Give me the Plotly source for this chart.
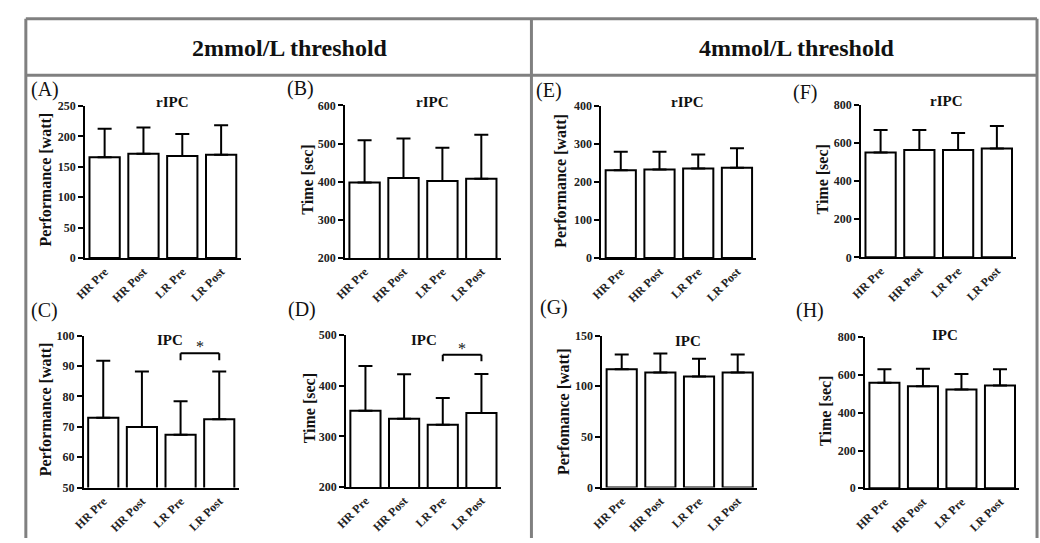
import plotly.graph_objects as go

W, H = 1040, 543

categories = ["HR Pre", "HR Post", "LR Pre", "LR Post"]

# Panel data (mean, SD)
A_mean = [166, 171.5, 168, 170]
A_sd = [46.6, 43.3, 36.2, 48.6]
B_mean = [398, 410, 402, 408]
B_sd = [111, 103, 87, 115]
C_mean = [73.0, 69.9, 67.4, 72.5]
C_sd = [18.7, 18.3, 11.0, 15.7]
D_mean = [350.6, 334.6, 323, 346.2]
D_sd = [88, 88, 52.6, 77]
E_mean = [230.3, 232.8, 235.4, 237.1]
E_sd = [48.6, 46.1, 36.6, 51.2]
F_mean = [550, 563, 563, 570]
F_sd = [117, 104, 89, 119]
G_mean = [116.7, 113.5, 109.6, 113.5]
G_sd = [14.7, 18.9, 17.6, 17.9]
H_mean = [559, 540, 523, 544]
H_sd = [71, 93, 83, 86]

y_ranges = {"A": [0, 250], "B": [200, 600], "C": [50, 100], "D": [200, 500],
            "E": [0, 400], "F": [0, 800], "G": [0, 150], "H": [0, 800]}
y_dticks = {"A": 50, "B": 100, "C": 10, "D": 100, "E": 100, "F": 200, "G": 50, "H": 200}
y_titles = {"A": "Performance [watt]", "B": "Time [sec]", "C": "Performance [watt]",
            "D": "Time [sec]", "E": "Performance [watt]", "F": "Time [sec]",
            "G": "Perfomance [watt]", "H": "Time [sec]"}
panel_titles = {"A": "rIPC", "B": "rIPC", "C": "IPC", "D": "IPC",
                "E": "rIPC", "F": "rIPC", "G": "IPC", "H": "IPC"}
means = {"A": A_mean, "B": B_mean, "C": C_mean, "D": D_mean,
         "E": E_mean, "F": F_mean, "G": G_mean, "H": H_mean}
sds = {"A": A_sd, "B": B_sd, "C": C_sd, "D": D_sd,
       "E": E_sd, "F": F_sd, "G": G_sd, "H": H_sd}

# significance brackets: (panel, from category, to category, bracket level, leg bottom)
sig_C = ("C", "LR Pre", "LR Post", 94.2, 91.9)
sig_D = ("D", "LR Pre", "LR Post", 461, 448)

# ---- layout geometry (pixels) ----
dom_px = {
    "A": (75, 232, 101.7, 257.7),
    "B": (337.7, 495, 101, 257.7),
    "E": (596.7, 753.3, 101.3, 257.7),
    "F": (859.3, 1016, 100.3, 257),
    "C": (73.7, 230, 337.3, 493.3),
    "D": (338.7, 495, 336.7, 492.7),
    "G": (597.7, 754, 337.3, 493.3),
    "H": (863.3, 1019, 339, 494),
}
ytitle_px = {"A": (35, 177.5), "B": (300, 177.5), "C": (35, 413.3), "D": (301.7, 412.5),
             "E": (556, 178.3), "F": (820, 176.7), "G": (557.7, 415), "H": (823.3, 415)}
label_px = {"A": (34.8, 85), "B": (292.5, 84), "C": (34, 311.7), "D": (293.8, 310),
            "E": (543.3, 86), "F": (802, 88), "G": (548.5, 308.3), "H": (808, 311.7)}
ptitle_px = {"A": (163, 97.3), "B": (425.7, 97.3), "C": (161, 342.3), "D": (417, 342.3),
             "E": (684, 97.3), "F": (946, 96.7), "G": (684.7, 342.7), "H": (943.8, 336.7)}


def px(x):
    return x / W


def py(y):
    return 1 - y / H


SERIF = "'Liberation Serif', 'DejaVu Serif', 'Times New Roman', Times, serif"
order = ["A", "B", "C", "D", "E", "F", "G", "H"]

fig = go.Figure()
layout = dict(
    width=W, height=H, margin=dict(l=0, r=0, t=0, b=0),
    paper_bgcolor="white", plot_bgcolor="white", showlegend=False,
    font=dict(family=SERIF),
)
annotations = []
shapes = []

for i, p in enumerate(order):
    n = "" if i == 0 else str(i + 1)
    xa, ya = "x" + n, "y" + n
    x0, x1, y0, y1 = dom_px[p]
    fig.add_trace(go.Bar(
        x=categories, y=means[p], xaxis=xa, yaxis=ya,
        width=0.78,
        marker=dict(color="white", line=dict(color="black", width=2)),
        error_y=dict(type="data", array=sds[p], arrayminus=[0] * 4, symmetric=False,
                     color="black", thickness=2, width=7),
    ))
    layout["xaxis" + n] = dict(
        domain=[px(x0), px(x1)], anchor=ya, type="category",
        categoryorder="array", categoryarray=categories, range=[-0.5, 3.5],
        showline=True, linecolor="black", linewidth=2, ticks="",
        showgrid=False, zeroline=False, tickangle=-45,
        tickfont=dict(family=SERIF, size=12, color="#222", weight="bold"),
    )
    layout["yaxis" + n] = dict(
        domain=[py(y1), py(y0)], anchor=xa, range=y_ranges[p], dtick=y_dticks[p],
        showline=True, linecolor="black", linewidth=2, ticks="outside",
        ticklen=5, tickwidth=2, tickcolor="black", showgrid=False, zeroline=False,
        tickfont=dict(family=SERIF, size=12, color="#222", weight="bold"),
    )
    tx, ty = ytitle_px[p]
    annotations.append(dict(x=px(tx), y=py(ty), xref="paper", yref="paper",
                            text="<b>" + y_titles[p] + "</b>", textangle=-90,
                            showarrow=False, xanchor="center", yanchor="middle",
                            font=dict(family=SERIF, size=16, color="#111")))
    lx, ly = label_px[p]
    annotations.append(dict(x=px(lx), y=py(ly), xref="paper", yref="paper",
                            text="(" + p + ")", showarrow=False,
                            xanchor="center", yanchor="middle",
                            font=dict(family=SERIF, size=20, color="#111")))
    tx2, ty2 = ptitle_px[p]
    annotations.append(dict(x=px(tx2), y=py(ty2), xref="paper", yref="paper",
                            text="<b>" + panel_titles[p] + "</b>", showarrow=False,
                            xanchor="center", yanchor="middle",
                            font=dict(family=SERIF, size=15, color="#111")))

# significance brackets
for sig in (sig_C, sig_D):
    p, c_from, c_to, top, leg = sig
    i = order.index(p)
    n = "" if i == 0 else str(i + 1)
    xr, yr = "x" + n, "y" + n
    a, b = categories.index(c_from), categories.index(c_to)
    line = dict(color="black", width=2)
    shapes.append(dict(type="line", xref=xr, yref=yr, x0=a, x1=b, y0=top, y1=top, line=line))
    shapes.append(dict(type="line", xref=xr, yref=yr, x0=a, x1=a, y0=leg, y1=top, line=line))
    shapes.append(dict(type="line", xref=xr, yref=yr, x0=b, x1=b, y0=leg, y1=top, line=line))
    annotations.append(dict(x=(a + b) / 2, y=top, xref=xr, yref=yr, text="*",
                            showarrow=False, xanchor="center", yanchor="bottom",
                            yshift=-4, font=dict(family=SERIF, size=16, color="#111")))

# header texts
annotations.append(dict(x=px(282), y=py(41.7), xref="paper", yref="paper",
                        text="<b>2mmol/L threshold</b>", showarrow=False,
                        xanchor="center", yanchor="middle",
                        font=dict(family=SERIF, size=24, color="#111")))
annotations.append(dict(x=px(794), y=py(41.7), xref="paper", yref="paper",
                        text="<b>4mmol/L threshold</b>", showarrow=False,
                        xanchor="center", yanchor="middle",
                        font=dict(family=SERIF, size=24, color="#111")))

# frame
frame = dict(color="#808080", width=3)
for (xa0, ya0, xa1, ya1) in [(15, 12, 1037, 12), (15, 70, 1037, 70),
                             (15, 12, 15, 545), (526, 12, 526, 545), (1037, 12, 1037, 545)]:
    shapes.append(dict(type="line", xref="paper", yref="paper",
                       x0=px(xa0), y0=py(ya0), x1=px(xa1), y1=py(ya1), line=frame))

layout["annotations"] = annotations
layout["shapes"] = shapes
fig.update_layout(**layout)
fig.write_html("out.html")
